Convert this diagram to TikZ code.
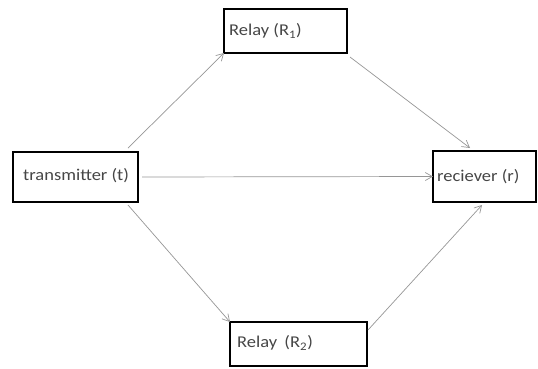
\documentclass[tikz,border=0pt]{standalone}
\usepackage{fontspec}
\setmainfont{Carlito}
\usetikzlibrary{arrows.meta}
\definecolor{linegray}{RGB}{150,150,150}
\definecolor{textgray}{RGB}{70,70,70}
\begin{document}
\begin{tikzpicture}[x=1pt,y=-1pt,
  box/.style={draw=black, line width=1.6pt, anchor=north west, inner sep=0pt, outer sep=0pt},
  lbl/.style={anchor=west, text=textgray, font=\fontsize{16.5}{19}\selectfont, inner sep=0pt, xscale=1.12},
  conn/.style={draw=linegray, line width=0.7pt, -{Straight Barb[length=7pt,width=8pt]}}]
\useasboundingbox (0,0) rectangle (538,368);
% boxes
\node[box, minimum width=125pt, minimum height=50pt] (t) at (13,152) {};
\node[box, minimum width=123pt, minimum height=44pt] (r1) at (224,9) {};
\node[box, minimum width=103pt, minimum height=51pt] (r) at (433,151) {};
\node[box, minimum width=137pt, minimum height=44pt] (r2) at (230,322) {};
% labels
\node[lbl] (tl) at (23,176) {transmitter (t)};
\node[lbl] (r1l) at (229,31) {Relay (R\textsubscript{1})};
\node[lbl] (rl) at (437,177) {reciever (r)};
\node[lbl] (r2l) at (237,343) {Relay\, (R\textsubscript{2})};
% connectors
\draw[conn] ([xshift=-10pt,yshift=4pt]t.north east) -- (r1.south west);
\draw[conn] ([xshift=3pt,yshift=-4pt]r1.south east) -- ([xshift=37pt,yshift=3pt]r.north west);
\draw[conn] ([xshift=4pt]t.east) -- (r.west);
\draw[conn] ([xshift=-10pt,yshift=-3pt]t.south east) -- (r2.north west);
\draw[conn] ([xshift=1pt,yshift=-8pt]r2.north east) -- ([xshift=49pt,yshift=-3pt]r.south west);
\end{tikzpicture}
\end{document}
